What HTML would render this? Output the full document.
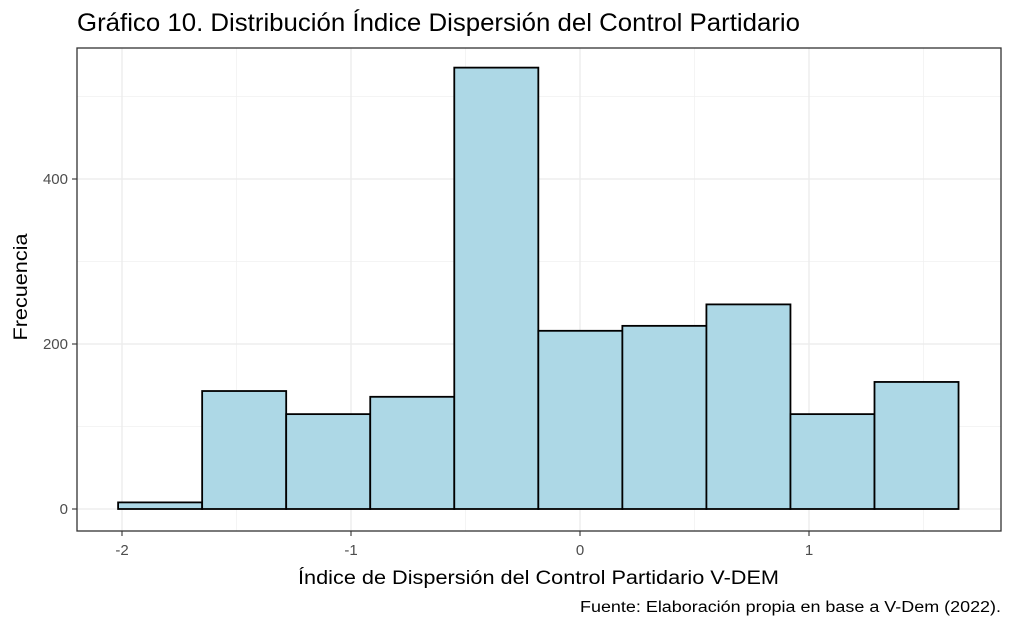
<!DOCTYPE html>
<html><head><meta charset="utf-8">
<style>
body{margin:0;background:#fff;font-family:"Liberation Sans",sans-serif;}
</style></head>
<body>
<svg id="chart" width="1012" height="625" xmlns="http://www.w3.org/2000/svg" font-family="Liberation Sans, sans-serif">
<text x="77" y="31" font-size="25" textLength="723" lengthAdjust="spacingAndGlyphs" fill="#000">Gráfico 10. Distribución Índice Dispersión del Control Partidario</text>
<g id="grid"></g>
<g id="bars"></g>
<rect x="77" y="48" width="924" height="483" fill="none" stroke="#333" stroke-width="1.3"/>
<g id="axes"></g>
<text x="298" y="584" font-size="19" textLength="481" lengthAdjust="spacingAndGlyphs" fill="#000">Índice de Dispersión del Control Partidario V-DEM</text>
<text transform="translate(27,287) rotate(-90)" font-size="19" text-anchor="middle" textLength="107" lengthAdjust="spacingAndGlyphs" fill="#000">Frecuencia</text>
<text x="580" y="612" font-size="15.5" textLength="421" lengthAdjust="spacingAndGlyphs" fill="#000">Fuente: Elaboración propia en base a V-Dem (2022).</text>
</svg>
<script>
const binStart = -2.017;
const binWidth = 0.367;
const counts = [8, 143, 115, 136, 535, 216, 222, 248, 115, 154];
const xTicks = [-2, -1, 0, 1];
const yTicks = [0, 200, 400];
const xMinor = [-1.5, -0.5, 0.5, 1.5];
const yMinor = [100, 300, 500];
const X = v => 580 + v * 229;
const Y = v => 509 - v * 0.825;
const ns = "http://www.w3.org/2000/svg";
const grid = document.getElementById('grid'), bars = document.getElementById('bars'), axes = document.getElementById('axes');
function mk(tag, attrs, parent){const e=document.createElementNS(ns,tag);for(const k in attrs)e.setAttribute(k,attrs[k]);parent.appendChild(e);return e;}
xMinor.forEach(v=>{const l=mk('line',{x1:X(v),x2:X(v),y1:48,y2:531,stroke:'#f0f0f0','stroke-width':0.7},grid);

});
yMinor.forEach(v=>{const l=mk('line',{x1:77,x2:1001,y1:Y(v),y2:Y(v),stroke:'#f0f0f0','stroke-width':0.7},grid);

});
xTicks.forEach(v=>{const l=mk('line',{x1:X(v),x2:X(v),y1:48,y2:531,stroke:'#ebebeb','stroke-width':1.3},grid);


const t=mk('line',{x1:X(v),x2:X(v),y1:531,y2:536,stroke:'#333','stroke-width':1.1},axes);


const tx=mk('text',{x:X(v),y:555,'font-size':15,'text-anchor':'middle',fill:'#4d4d4d'},axes);tx.textContent=v;

});
yTicks.forEach(v=>{const l=mk('line',{x1:77,x2:1001,y1:Y(v),y2:Y(v),stroke:'#ebebeb','stroke-width':1.3},grid);


const t=mk('line',{x1:72,x2:77,y1:Y(v),y2:Y(v),stroke:'#333','stroke-width':1.1},axes);


const tx=mk('text',{x:68,y:Y(v)+5,'font-size':15,'text-anchor':'end',fill:'#4d4d4d'},axes);tx.textContent=v;

});
counts.forEach((c,i)=>{const x0=X(binStart+i*binWidth),x1=X(binStart+(i+1)*binWidth);
const r=mk('rect',{x:x0,y:Y(c),width:x1-x0,height:Y(0)-Y(c),fill:'#add8e6',stroke:'#000','stroke-width':1.8},bars);

});
</script>
</body></html>
